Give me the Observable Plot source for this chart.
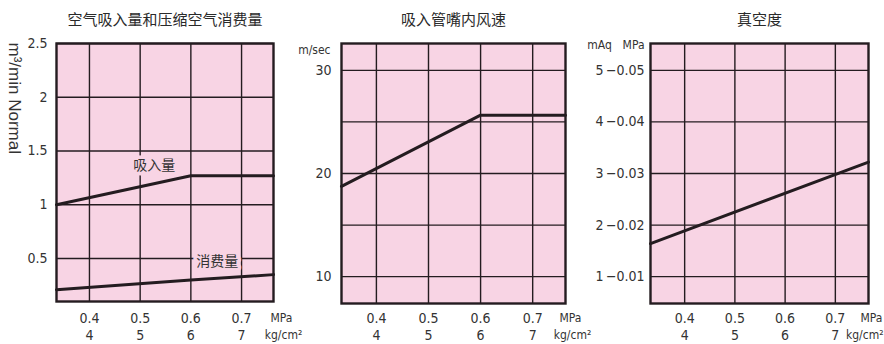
<!DOCTYPE html>
<html><head><meta charset="utf-8">
<script src="https://cdn.jsdelivr.net/npm/d3@7"></script>
<script src="https://cdn.jsdelivr.net/npm/@observablehq/plot@0.6"></script>
<style>
body{margin:0;background:#fff;}
#wrap{position:relative;width:884px;height:344px;overflow:hidden;background:#fff;}
#wrap svg{position:absolute;top:0;overflow:visible;background:transparent;}
</style></head><body><div id="wrap"></div>
<script>
// ---- shared data ----
const titles = ["空气吸入量和压缩空气消费量", "吸入管嘴内风速", "真空度"];
const pressureMPa = [0.4, 0.5, 0.6, 0.7];
const pressureKg = ["4", "5", "6", "7"];
const xUnitMPa = "MPa";
const xUnitKg = "kg/cm²";

// ---- panel 1: air intake and compressed air consumption ----
const flowUnit = "m³/min Normal";
const flowGrid = [0.5, 1, 1.5, 2, 2.5];
const flowTickLabels = ["0.5", "1", "1.5", "2", "2.5"];
const intakeX = [0.335, 0.6, 0.763];
const intakeY = [1.0, 1.27, 1.27];
const consumeX = [0.335, 0.6, 0.763];
const consumeY = [0.21, 0.30, 0.35];
const seriesNames = ["吸入量", "消费量"];
const seriesLabelX = [0.528, 0.652];
const seriesLabelY = [1.365, 0.47];

// ---- panel 2: nozzle air speed ----
const speedUnit = "m/sec";
const speedGrid = [10, 15, 20, 25, 30];
const speedTicks = [10, 20, 30];
const speedX = [0.333, 0.6, 0.763];
const speedY = [18.75, 25.65, 25.65];

// ---- panel 3: vacuum ----
const vacUnitA = "mAq";
const vacUnitB = "MPa";
const vacTicks = [1, 2, 3, 4, 5];
const vacTickLabelsMPa = ["−0.01", "−0.02", "−0.03", "−0.04", "−0.05"];
const vacX = [0.332, 0.766];
const vacY = [1.64, 3.22];

const PINK = "#f8d4e4";
const INK = "#241c20";
const TXT = "#333";
const NUMFONT = "'Liberation Sans Narrow','DejaVu Sans Condensed',sans-serif";
const CJK = "'Noto Sans CJK SC',sans-serif";

const wrap = document.getElementById("wrap");

function toPts(xs, ys) { return xs.map((x, i) => ({x, y: ys[i]})); }

function panel({left, width, mL, mR, mB, xDomain, yDomain, yGrid, title, extra, unitDx, kgAnchor = "middle", kgDx}) {
  const d1 = 344 - mB < 302 ? 17 : 15;
  const d2 = d1 + 17;
  const marks = [
    Plot.frame({fill: PINK, stroke: null}),
    Plot.ruleX(pressureMPa, {x: d => d, stroke: INK, strokeWidth: 1.4}),
    Plot.ruleY(yGrid, {y: d => d, stroke: INK, strokeWidth: 1.4}),
    ...extra,
    Plot.frame({stroke: INK, strokeWidth: 2.4}),
    Plot.text(pressureMPa, {x: d => d, text: d => d.toFixed(1), frameAnchor: "bottom", lineAnchor: "middle", dy: d1,
      fontFamily: NUMFONT, fontSize: 14, fill: TXT}),
    Plot.text(pressureMPa, {x: d => d, text: (d, i) => pressureKg[i], frameAnchor: "bottom", lineAnchor: "middle", dy: d2,
      fontFamily: NUMFONT, fontSize: 14, fill: TXT}),
    Plot.text([xUnitMPa], {text: d => d, frameAnchor: "bottom-right", textAnchor: "middle", lineAnchor: "middle", dx: unitDx, dy: d1,
      fontFamily: NUMFONT, fontSize: 12, fill: TXT}),
    Plot.text([xUnitKg], {text: d => d, frameAnchor: "bottom-right", textAnchor: kgAnchor, lineAnchor: "middle",
      dx: kgDx ?? unitDx + 2, dy: d2, fontFamily: NUMFONT, fontSize: 12, fill: TXT}),
    Plot.text([title], {text: d => d, frameAnchor: "top", lineAnchor: "middle", dy: -23,
      fontFamily: CJK, fontSize: 15, fill: "#2a2a2a"})
  ];
  const svg = Plot.plot({
    width, height: 344,
    marginLeft: mL, marginRight: mR, marginTop: 43, marginBottom: mB,
    x: {domain: xDomain, axis: null},
    y: {domain: yDomain, axis: null},
    style: {background: "transparent", overflow: "visible"},
    marks
  });
  svg.style.left = left + "px";
  wrap.appendChild(svg);
}

// Panel 1
panel({
  left: 0, width: 295, mL: 56, mR: 22, mB: 43,
  xDomain: [0.335, 0.763], yDomain: [0.1, 2.5], yGrid: flowGrid, title: titles[0], unitDx: 8,
  extra: [
    Plot.line(toPts(intakeX, intakeY), {x: "x", y: "y", stroke: INK, strokeWidth: 3}),
    Plot.line(toPts(consumeX, consumeY), {x: "x", y: "y", stroke: INK, strokeWidth: 3}),
    Plot.text(seriesNames, {x: (d, i) => seriesLabelX[i], y: (d, i) => seriesLabelY[i], text: d => d,
      fontFamily: CJK, fontSize: 14, fill: "#333", stroke: PINK, strokeWidth: 7}),
    Plot.text(flowGrid, {y: d => d, text: (d, i) => flowTickLabels[i], frameAnchor: "left", textAnchor: "end", dx: -9,
      fontFamily: NUMFONT, fontSize: 14, fill: TXT}),
    Plot.text([flowUnit], {text: d => d, frameAnchor: "top-left", rotate: 90, textAnchor: "start", lineAnchor: "middle", dx: -42, dy: -1,
      fontFamily: "'Liberation Sans',sans-serif", fontSize: 17, fill: TXT})
  ]
});

// Panel 2
panel({
  left: 295, width: 290, mL: 46, mR: 20, mB: 41,
  xDomain: [0.333, 0.763], yDomain: [7.4, 32.6], yGrid: speedGrid, title: titles[1], unitDx: 5,
  extra: [
    Plot.line(toPts(speedX, speedY), {x: "x", y: "y", stroke: INK, strokeWidth: 3}),
    Plot.text(speedTicks, {y: d => d, text: d => String(d), frameAnchor: "left", textAnchor: "end", dx: -10,
      fontFamily: NUMFONT, fontSize: 14, fill: TXT}),
    Plot.text([speedUnit], {text: d => d, frameAnchor: "top-left", textAnchor: "end", lineAnchor: "middle", dx: -11, dy: 7,
      fontFamily: NUMFONT, fontSize: 12, fill: TXT})
  ]
});

// Panel 3
panel({
  left: 585, width: 299, mL: 65, mR: 16, mB: 41,
  xDomain: [0.332, 0.766], yDomain: [0.48, 5.52], yGrid: vacTicks, title: titles[2], unitDx: 3,
  kgAnchor: "end", kgDx: 15,
  extra: [
    Plot.line(toPts(vacX, vacY), {x: "x", y: "y", stroke: INK, strokeWidth: 3}),
    Plot.text(vacTicks, {y: d => d, text: (d, i) => vacTickLabelsMPa[i], frameAnchor: "left", textAnchor: "end", dx: -6,
      fontFamily: NUMFONT, fontSize: 14, fill: TXT}),
    Plot.text(vacTicks, {y: d => d, text: d => String(d), frameAnchor: "left", textAnchor: "middle", dx: -51,
      fontFamily: NUMFONT, fontSize: 14, fill: TXT}),
    Plot.text([vacUnitA], {text: d => d, frameAnchor: "top-left", textAnchor: "middle", lineAnchor: "middle", dx: -51, dy: 2,
      fontFamily: NUMFONT, fontSize: 12, fill: TXT}),
    Plot.text([vacUnitB], {text: d => d, frameAnchor: "top-left", textAnchor: "end", lineAnchor: "middle", dx: -6, dy: 2,
      fontFamily: NUMFONT, fontSize: 12, fill: TXT})
  ]
});
</script></body></html>
